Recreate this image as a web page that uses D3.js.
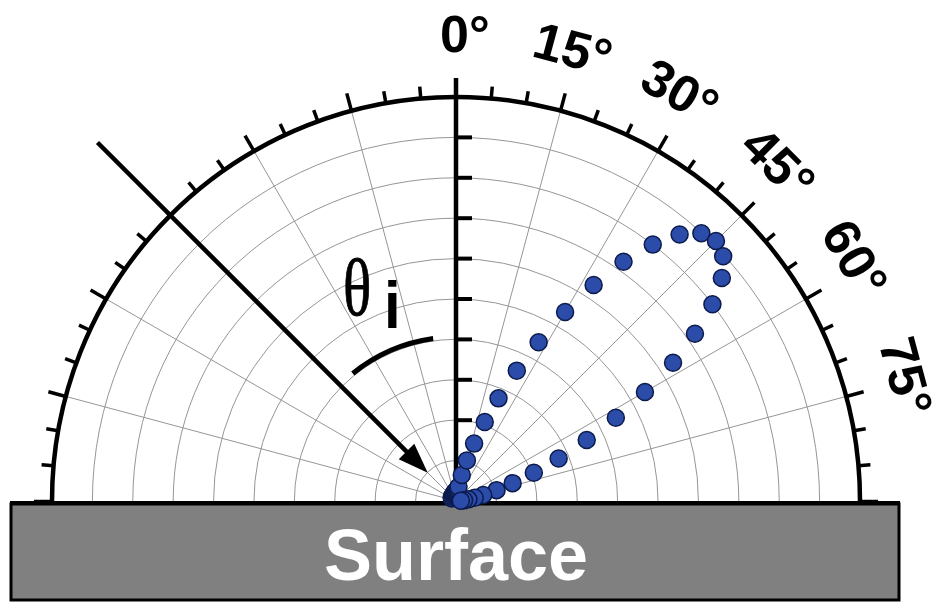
<!DOCTYPE html>
<html>
<head>
<meta charset="utf-8">
<script src="https://cdn.jsdelivr.net/npm/d3@7"></script>
<style>
  html, body { margin: 0; padding: 0; background: #fff; }
  svg { display: block; }
</style>
</head>
<body>
<svg id="chart"></svg>
<script>
// scattered intensity vs. angle from the surface normal (degrees, ring units)
const angles = [-60, -45, -30, -20, -15, -10, -5, 0,
  2.5, 5, 7.5, 10, 12.5, 15, 17.5, 20, 22.5, 25, 27.5, 30, 32.5, 35, 37.5, 40, 42.5, 45,
  47.5, 50, 52.5, 55, 57.5, 60, 62.5, 65, 67.5, 70, 72.5, 75, 77.5, 80, 82.5, 85, 87.5];
const intensity = [0.12, 0.15, 0.15, 0.18, 0.2, 0.22, 0.22, 0.24,
  0.25, 0.28, 0.32, 0.36, 0.66, 1.04, 1.49, 2.08, 2.75, 3.56, 4.43, 5.40, 6.34, 7.23, 8.00, 8.61, 8.99, 9.10,
  8.97, 8.59, 8.00, 7.22, 6.37, 5.40, 4.46, 3.57, 2.75, 2.05, 1.47, 1.04, 0.69, 0.47, 0.31, 0.2, 0.12];

const rings = [1, 2, 3, 4, 5, 6, 7, 8, 9];
const spokes = [-75, -60, -45, -30, -15, 15, 30, 45, 60, 75];
const labelAngles = [0, 15, 30, 45, 60, 75];
const labelText = ["0°", "15°", "30°", "45°", "60°", "75°"];
const incidentAngle = -45;

const width = 941;
const height = 602;
const cx = 456;
const cy = 501;
const R = 404;

const svg = d3.select("#chart").attr("width", width).attr("height", height);

const rScale = d3.scaleLinear().domain([0, 10]).range([0, R]);
const aScale = d3.scaleLinear().domain([-90, 90]).range([-Math.PI / 2, Math.PI / 2]);

const polar = (deg, r) => {
  const p = d3.pointRadial(aScale(deg), r);
  return [cx + p[0], cy + p[1]];
};

const halfCircle = (r) => {
  const p = d3.path();
  p.moveTo(cx - r, cy);
  p.arc(cx, cy, r, -Math.PI, 0);
  return p.toString();
};

const g = svg.append("g");

// surface block
g.append("rect")
  .attr("x", 11)
  .attr("y", 504)
  .attr("width", 888)
  .attr("height", 96)
  .attr("fill", "#808080")
  .attr("stroke", "#000")
  .attr("stroke-width", 3);

g.append("line")
  .attr("x1", 10).attr("x2", 900)
  .attr("y1", 503).attr("y2", 503)
  .attr("stroke", "#000")
  .attr("stroke-width", 4);

g.append("text")
  .attr("x", cx)
  .attr("y", 580)
  .attr("text-anchor", "middle")
  .attr("fill", "#fff")
  .style("font-family", "'Liberation Sans', Arial, sans-serif")
  .style("font-weight", "bold")
  .style("font-size", "72px")
  .text("Surface");

// grid
g.selectAll(".ring")
  .data(rings)
  .enter()
  .append("path")
  .attr("class", "ring")
  .attr("d", (d) => halfCircle(rScale(d)))
  .attr("fill", "none")
  .attr("stroke", "#969696")
  .attr("stroke-width", 1);

g.selectAll(".spoke")
  .data(spokes)
  .enter()
  .append("line")
  .attr("class", "spoke")
  .attr("x1", cx)
  .attr("y1", cy)
  .attr("x2", (d) => polar(d, R)[0])
  .attr("y2", (d) => polar(d, R)[1])
  .attr("stroke", "#969696")
  .attr("stroke-width", 1);

// outer frame and angle ticks
g.append("path")
  .attr("d", halfCircle(R))
  .attr("fill", "none")
  .attr("stroke", "#000")
  .attr("stroke-width", 4.5);

const tickAngles = d3.range(-90, 91, 5).filter((d) => d !== 0);
g.selectAll(".atick")
  .data(tickAngles)
  .enter()
  .append("line")
  .attr("class", "atick")
  .attr("x1", (d) => polar(d, R)[0])
  .attr("y1", (d) => polar(d, R)[1])
  .attr("x2", (d) => polar(d, R + (d % 15 === 0 ? 18 : 12))[0])
  .attr("y2", (d) => polar(d, R + (d % 15 === 0 ? 18 : 12))[1])
  .attr("stroke", "#000")
  .attr("stroke-width", (d) => (Math.abs(d) === 90 ? 2.5 : 3.5));

// vertical (normal) axis
g.append("line")
  .attr("x1", cx).attr("x2", cx)
  .attr("y1", cy).attr("y2", cy - R - 19)
  .attr("stroke", "#000")
  .attr("stroke-width", 4.5);

g.selectAll(".rtick")
  .data(rings)
  .enter()
  .append("line")
  .attr("class", "rtick")
  .attr("x1", cx)
  .attr("x2", cx + 16)
  .attr("y1", (d) => cy - rScale(d))
  .attr("y2", (d) => cy - rScale(d))
  .attr("stroke", "#000")
  .attr("stroke-width", 4);

// angle labels (nudged a little to sit like the original)
const labelShift = (d) => (d === 0 ? 1.1 : d === 15 || d === 75 ? -0.5 : -1.3);
g.selectAll(".alabel")
  .data(labelAngles)
  .enter()
  .append("text")
  .attr("class", "alabel")
  .attr("transform", (d) => {
    const p = polar(d + labelShift(d), 467);
    return `translate(${p[0]},${p[1]}) rotate(${d})`;
  })
  .attr("text-anchor", "middle")
  .attr("dominant-baseline", "central")
  .style("font-family", "'Liberation Sans', Arial, sans-serif")
  .style("font-weight", "bold")
  .style("font-size", "52px")
  .text((d, i) => labelText[i]);

// incident beam arrow
const beam = g.append("g")
  .attr("transform", `translate(${cx},${cy}) rotate(${incidentAngle})`);
beam.append("line")
  .attr("x1", 0).attr("x2", 0)
  .attr("y1", -507).attr("y2", -66)
  .attr("stroke", "#000")
  .attr("stroke-width", 4.5);
beam.append("path")
  .attr("d", "M0,-40 L-11,-70 L11,-70 Z")
  .attr("fill", "#000");

// theta_i marker arc
const mark = d3.path();
mark.arc(cx, cy, 164, aScale(-39) - Math.PI / 2, aScale(-8) - Math.PI / 2);
g.append("path")
  .attr("d", mark.toString())
  .attr("fill", "none")
  .attr("stroke", "#000")
  .attr("stroke-width", 5);

g.append("text")
  .attr("transform", "translate(343,315) scale(0.82,1.12)")
  .attr("stroke", "#000")
  .attr("stroke-width", 0.8)
  .style("font-family", "'Liberation Serif', 'Times New Roman', serif")
  .style("font-size", "72px")
  .text("θ");

g.append("text")
  .attr("transform", "translate(384,328) scale(1,1.1)")
  .style("font-family", "'Liberation Sans', Arial, sans-serif")
  .style("font-weight", "bold")
  .style("font-size", "60px")
  .text("i");

// data points
const points = angles.map((a, i) => ({ a: a, r: intensity[i] }));
g.selectAll(".pt")
  .data(points)
  .enter()
  .append("circle")
  .attr("class", "pt")
  .attr("cx", (d) => polar(d.a, rScale(d.r))[0])
  .attr("cy", (d) => polar(d.a, rScale(d.r))[1])
  .attr("r", 8.5)
  .attr("fill", "#2b4ca8")
  .attr("stroke", "#0c1a4c")
  .attr("stroke-width", 1.5);
</script>
</body>
</html>
